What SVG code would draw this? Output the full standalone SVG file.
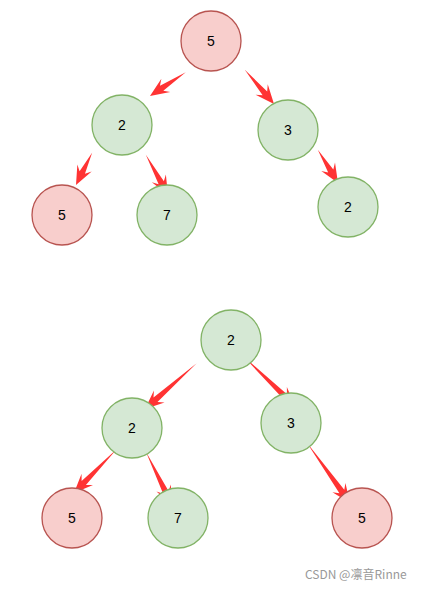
<svg xmlns="http://www.w3.org/2000/svg" width="429" height="589" viewBox="0 0 429 589">
<style>
.r{fill:#f8cecc;stroke:#b85450;stroke-width:1.3}
.g{fill:#d5e8d4;stroke:#82b366;stroke-width:1.3}
.t{font-family:"Liberation Sans",Arial,sans-serif;font-size:14px;fill:#000;text-anchor:middle;dominant-baseline:central}
.a{fill:#ff3333;stroke:none}
.w{font-family:"Noto Sans CJK SC","Noto Sans",sans-serif;font-size:12px;fill:#999}
</style>
<rect width="429" height="589" fill="#fff"/>
<g id="connectors">
<polygon class="a" transform="translate(150,96) rotate(146.3)" points="-43,0 -14,-3 -19,-8 0,0 -19,8 -14,3"/>
<polygon class="a" transform="translate(274,104) rotate(49.5)" points="-45,0 -14,-3 -19,-8 0,0 -19,8 -14,3"/>
<polygon class="a" transform="translate(76,185) rotate(116.6)" points="-36,0 -14,-3 -19,-8 0,0 -19,8 -14,3"/>
<polygon class="a" transform="translate(168,195) rotate(61.2)" points="-46,0 -14,-3 -19,-8 0,0 -19,8 -14,3"/>
<polygon class="a" transform="translate(338,183) rotate(58.8)" points="-39,0 -14,-3 -19,-8 0,0 -19,8 -14,3"/>
<polygon class="a" transform="translate(145,409) rotate(138.5)" points="-69,0 -14,-3 -19,-8 0,0 -19,8 -14,3"/>
<polygon class="a" transform="translate(295,406) rotate(43.9)" points="-72,0 -14,-3 -19,-8 0,0 -19,8 -14,3"/>
<polygon class="a" transform="translate(74,493) rotate(134.3)" points="-61,0 -14,-3 -19,-8 0,0 -19,8 -14,3"/>
<polygon class="a" transform="translate(172,505) rotate(63.9)" points="-59,0 -14,-3 -19,-8 0,0 -19,8 -14,3"/>
<polygon class="a" transform="translate(350,503) rotate(54.4)" points="-74,0 -14,-3 -19,-8 0,0 -19,8 -14,3"/>
</g>
<g id="t1-root"><circle class="r" cx="211" cy="41" r="30"/><text class="t" x="211" y="41">5</text></g>
<g id="t1-l"><circle class="g" cx="122" cy="125" r="30"/><text class="t" x="122" y="125">2</text></g>
<g id="t1-r"><circle class="g" cx="288" cy="130" r="30"/><text class="t" x="288" y="130">3</text></g>
<g id="t1-ll"><circle class="r" cx="62" cy="215" r="30"/><text class="t" x="62" y="215">5</text></g>
<g id="t1-lr"><circle class="g" cx="167" cy="215" r="30"/><text class="t" x="167" y="215">7</text></g>
<g id="t1-rr"><circle class="g" cx="348" cy="207" r="30"/><text class="t" x="348" y="207">2</text></g>
<g id="t2-root"><circle class="g" cx="231" cy="340" r="30"/><text class="t" x="231" y="340">2</text></g>
<g id="t2-l"><circle class="g" cx="132" cy="428" r="30"/><text class="t" x="132" y="428">2</text></g>
<g id="t2-r"><circle class="g" cx="291" cy="423" r="30"/><text class="t" x="291" y="423">3</text></g>
<g id="t2-ll"><circle class="r" cx="72" cy="518" r="30"/><text class="t" x="72" y="518">5</text></g>
<g id="t2-lr"><circle class="g" cx="178" cy="518" r="30"/><text class="t" x="178" y="518">7</text></g>
<g id="t2-rr"><circle class="r" cx="362" cy="518" r="30"/><text class="t" x="362" y="518">5</text></g>
<text class="w" x="305" y="579">CSDN @凛音Rinne</text>
</svg>
